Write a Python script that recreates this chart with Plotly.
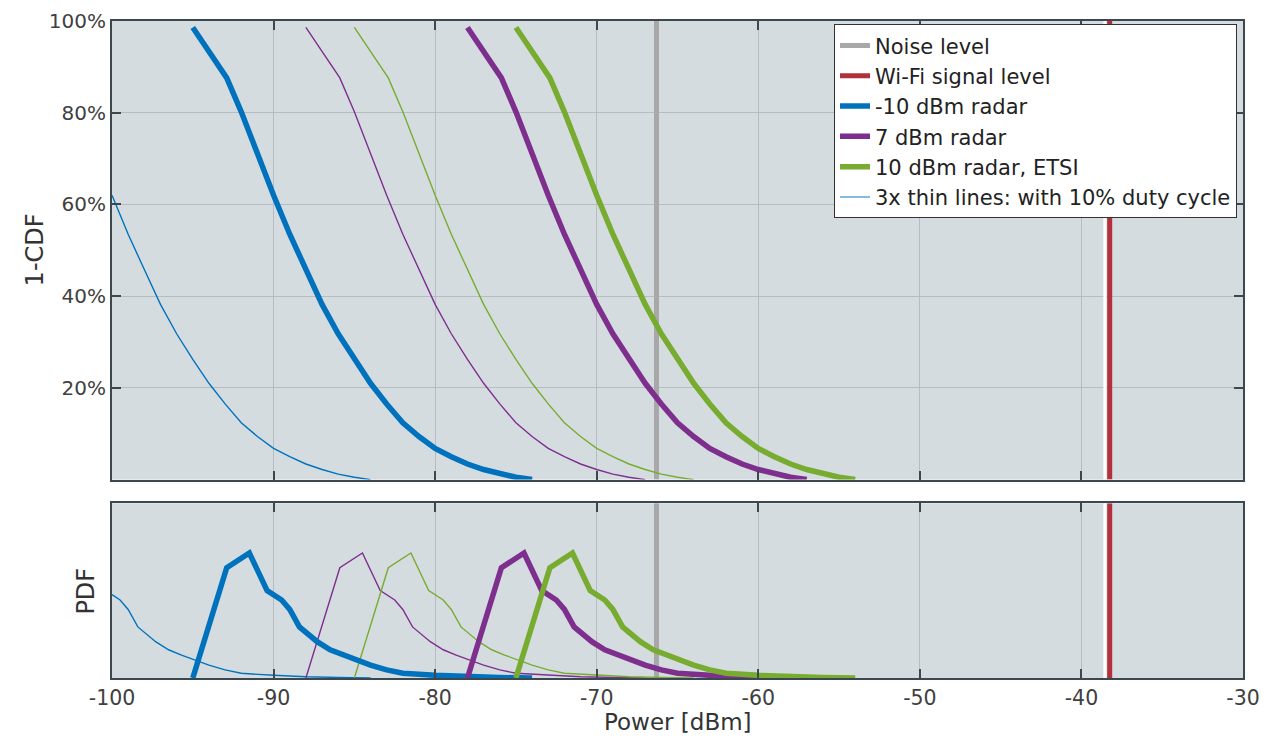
import plotly.graph_objects as go

# ---------------- data ----------------
# 1-CDF curves (percent)
cdf_m10_x = [-95.0, -92.9, -92.0, -91.0, -90.0, -89.0, -88.0, -87.0, -86.0, -85.0, -84.0,
             -83.0, -82.0, -81.0, -80.0, -79.0, -78.0, -77.0, -76.0, -75.0, -74.0]
cdf_m10_y = [98.6, 87.6, 80.2, 71.0, 62.0, 53.5, 45.8, 38.2, 31.8, 26.2, 21.0,
             16.5, 12.4, 9.4, 6.8, 5.0, 3.4, 2.2, 1.2, 0.5, 0.0]

cdf_7_x = [-78.0, -75.9, -75.0, -74.0, -73.0, -72.0, -71.0, -70.0, -69.0, -68.0, -67.0,
           -66.0, -65.0, -64.0, -63.0, -62.0, -61.0, -60.0, -59.0, -58.0, -57.0]
cdf_7_y = [98.6, 87.6, 80.2, 71.0, 62.0, 53.5, 45.8, 38.2, 31.8, 26.2, 21.0,
           16.5, 12.4, 9.4, 6.8, 5.0, 3.4, 2.2, 1.2, 0.5, 0.0]

cdf_10_x = [-75.0, -72.9, -72.0, -71.0, -70.0, -69.0, -68.0, -67.0, -66.0, -65.0, -64.0,
            -63.0, -62.0, -61.0, -60.0, -59.0, -58.0, -57.0, -56.0, -55.0, -54.0]
cdf_10_y = [98.6, 87.6, 80.2, 71.0, 62.0, 53.5, 45.8, 38.2, 31.8, 26.2, 21.0,
            16.5, 12.4, 9.4, 6.8, 5.0, 3.4, 2.2, 1.2, 0.5, 0.0]

# thin lines: 10 % duty cycle
cdf_m10_dc_x = [-100.0, -99.0, -98.0, -97.0, -96.0, -95.0, -94.0, -93.0, -92.0, -91.0,
                -90.0, -89.0, -88.0, -87.0, -86.0, -85.0, -84.0]
cdf_m10_dc_y = [62.0, 53.5, 45.8, 38.2, 31.8, 26.2, 21.0, 16.5, 12.4, 9.4,
                6.8, 5.0, 3.4, 2.2, 1.2, 0.5, 0.0]

cdf_7_dc_x = [-88.0, -85.9, -85.0, -84.0, -83.0, -82.0, -81.0, -80.0, -79.0, -78.0, -77.0,
              -76.0, -75.0, -74.0, -73.0, -72.0, -71.0, -70.0, -69.0, -68.0, -67.0]
cdf_7_dc_y = [98.6, 87.6, 80.2, 71.0, 62.0, 53.5, 45.8, 38.2, 31.8, 26.2, 21.0,
              16.5, 12.4, 9.4, 6.8, 5.0, 3.4, 2.2, 1.2, 0.5, 0.0]

cdf_10_dc_x = [-85.0, -82.9, -82.0, -81.0, -80.0, -79.0, -78.0, -77.0, -76.0, -75.0, -74.0,
               -73.0, -72.0, -71.0, -70.0, -69.0, -68.0, -67.0, -66.0, -65.0, -64.0]
cdf_10_dc_y = [98.6, 87.6, 80.2, 71.0, 62.0, 53.5, 45.8, 38.2, 31.8, 26.2, 21.0,
               16.5, 12.4, 9.4, 6.8, 5.0, 3.4, 2.2, 1.2, 0.5, 0.0]

# PDF curves (arbitrary units, %/dB)
pdf_m10_x = [-95.0, -92.9, -91.5, -90.4, -89.5, -89.0, -88.4, -87.3, -86.5, -85.7, -84.0,
             -83.0, -82.0, -80.0, -78.0, -76.0, -74.0]
pdf_m10_y = [0.0, 8.2, 9.3, 6.5, 5.8, 5.1, 3.8, 2.7, 2.1, 1.7, 0.96,
             0.6, 0.35, 0.2, 0.09, 0.04, 0.0]

pdf_7_x = [-78.0, -75.9, -74.5, -73.4, -72.5, -72.0, -71.4, -70.3, -69.5, -68.7, -67.0,
           -66.0, -65.0, -63.0, -61.0, -59.0, -57.0]
pdf_7_y = [0.0, 8.2, 9.3, 6.5, 5.8, 5.1, 3.8, 2.7, 2.1, 1.7, 0.96,
           0.6, 0.35, 0.2, 0.09, 0.04, 0.0]

pdf_10_x = [-75.0, -72.9, -71.5, -70.4, -69.5, -69.0, -68.4, -67.3, -66.5, -65.7, -64.0,
            -63.0, -62.0, -60.0, -58.0, -56.0, -54.0]
pdf_10_y = [0.0, 8.2, 9.3, 6.5, 5.8, 5.1, 3.8, 2.7, 2.1, 1.7, 0.96,
            0.6, 0.35, 0.2, 0.09, 0.04, 0.0]

pdf_m10_dc_x = [-100.0, -99.5, -99.0, -98.4, -97.3, -96.5, -95.7, -94.0, -93.0, -92.0,
                -90.0, -88.0, -86.0, -84.0]
pdf_m10_dc_y = [6.2, 5.8, 5.1, 3.8, 2.7, 2.1, 1.7, 0.96, 0.6, 0.35,
                0.2, 0.09, 0.04, 0.0]

pdf_7_dc_x = [-88.0, -85.9, -84.5, -83.4, -82.5, -82.0, -81.4, -80.3, -79.5, -78.7, -77.0,
              -76.0, -75.0, -73.0, -71.0, -69.0, -67.0]
pdf_7_dc_y = [0.0, 8.2, 9.3, 6.5, 5.8, 5.1, 3.8, 2.7, 2.1, 1.7, 0.96,
              0.6, 0.35, 0.2, 0.09, 0.04, 0.0]

pdf_10_dc_x = [-85.0, -82.9, -81.5, -80.4, -79.5, -79.0, -78.4, -77.3, -76.5, -75.7, -74.0,
               -73.0, -72.0, -70.0, -68.0, -66.0, -64.0]
pdf_10_dc_y = [0.0, 8.2, 9.3, 6.5, 5.8, 5.1, 3.8, 2.7, 2.1, 1.7, 0.96,
               0.6, 0.35, 0.2, 0.09, 0.04, 0.0]

noise_level = -66.3
wifi_level = -38.25

x_ticks = [-100, -90, -80, -70, -60, -50, -40, -30]
x_tick_text = ["-100", "-90", "-80", "-70", "-60", "-50", "-40", "-30"]
cdf_ticks = [20, 40, 60, 80, 100]
cdf_tick_text = ["20%", "40%", "60%", "80%", "100%"]

# ---------------- styling ----------------
BLUE = "#0072BD"
PURPLE = "#7E2F8E"
GREEN = "#77AC30"
GRAY = "#a8a8a8"
RED = "#b2303b"
LIGHTBLUE = "#82bce6"
FRAME = "#3c4850"
GRID = "#b6bdc2"
BG = "#d5dce0"
FONT = "DejaVu Sans"

fig = go.Figure()

# noise level (top + bottom)
fig.add_trace(go.Scatter(x=[noise_level, noise_level], y=[0, 100], mode="lines",
                         line=dict(color=GRAY, width=5), name="Noise level",
                         xaxis="x", yaxis="y"))
fig.add_trace(go.Scatter(x=[noise_level, noise_level], y=[0, 13], mode="lines",
                         line=dict(color=GRAY, width=5), showlegend=False,
                         xaxis="x2", yaxis="y2"))
# Wi-Fi level with white edge
for xa, ya, ytop in (("x", "y", 100), ("x2", "y2", 13)):
    fig.add_trace(go.Scatter(x=[wifi_level - 0.3, wifi_level - 0.3], y=[0, ytop], mode="lines",
                             line=dict(color="white", width=3), showlegend=False,
                             hoverinfo="skip", xaxis=xa, yaxis=ya))
fig.add_trace(go.Scatter(x=[wifi_level, wifi_level], y=[0, 100], mode="lines",
                         line=dict(color=RED, width=5), name="Wi-Fi signal level",
                         xaxis="x", yaxis="y"))
fig.add_trace(go.Scatter(x=[wifi_level, wifi_level], y=[0, 13], mode="lines",
                         line=dict(color=RED, width=5), showlegend=False,
                         xaxis="x2", yaxis="y2"))

thin = [(cdf_m10_dc_x, cdf_m10_dc_y, pdf_m10_dc_x, pdf_m10_dc_y, BLUE),
        (cdf_7_dc_x, cdf_7_dc_y, pdf_7_dc_x, pdf_7_dc_y, PURPLE),
        (cdf_10_dc_x, cdf_10_dc_y, pdf_10_dc_x, pdf_10_dc_y, GREEN)]
for cx, cy, px, py, col in thin:
    fig.add_trace(go.Scatter(x=cx, y=cy, mode="lines", line=dict(color=col, width=1.4),
                             showlegend=False, xaxis="x", yaxis="y"))
    fig.add_trace(go.Scatter(x=px, y=py, mode="lines", line=dict(color=col, width=1.4),
                             showlegend=False, xaxis="x2", yaxis="y2"))

thick = [(cdf_m10_x, cdf_m10_y, pdf_m10_x, pdf_m10_y, BLUE, "-10 dBm radar"),
         (cdf_7_x, cdf_7_y, pdf_7_x, pdf_7_y, PURPLE, "7 dBm radar"),
         (cdf_10_x, cdf_10_y, pdf_10_x, pdf_10_y, GREEN, "10 dBm radar, ETSI")]
for cx, cy, px, py, col, nm in thick:
    fig.add_trace(go.Scatter(x=cx, y=cy, mode="lines", line=dict(color=col, width=5.5),
                             name=nm, xaxis="x", yaxis="y"))
    fig.add_trace(go.Scatter(x=px, y=py, mode="lines", line=dict(color=col, width=5.5),
                             showlegend=False, xaxis="x2", yaxis="y2"))

fig.add_trace(go.Scatter(x=[None], y=[None], mode="lines", line=dict(color=LIGHTBLUE, width=2),
                         name="3x thin lines: with 10% duty cycle", xaxis="x", yaxis="y"))

axis_common = dict(showline=True, linecolor=FRAME, linewidth=2, mirror="allticks",
                   ticks="inside", ticklen=9, tickwidth=1.5, tickcolor=FRAME,
                   gridcolor=GRID, gridwidth=1, zeroline=False, automargin=False,
                   ticklabeloverflow="allow",
                   tickfont=dict(family=FONT, size=20.5, color="#404040"))

fig.update_layout(
    width=1255, height=726,
    margin=dict(l=104, r=20, t=13, b=56),
    paper_bgcolor="white", plot_bgcolor=BG,
    font=dict(family=FONT, size=21, color="#333333"),
    xaxis=dict(axis_common, domain=[0, 1], range=[-100, -30], tickvals=x_ticks,
               showticklabels=False, anchor="y"),
    yaxis=dict(axis_common, domain=[0.302, 1], range=[0, 100], tickvals=cdf_ticks,
               ticktext=cdf_tick_text, anchor="x",
               tickfont=dict(family=FONT, size=20, color="#404040")),
    xaxis2=dict(axis_common, domain=[0, 1], range=[-100, -30], tickvals=x_ticks,
                ticktext=x_tick_text, anchor="y2", matches="x"),
    yaxis2=dict(axis_common, domain=[0, 0.266], range=[0, 13], showticklabels=False,
                showgrid=False, ticks="", anchor="x2"),
    showlegend=True,
    legend=dict(x=0.9947, y=0.995, xanchor="right", yanchor="top",
                bgcolor="white", bordercolor="#333333", borderwidth=1,
                font=dict(family=FONT, size=21, color="#222222"),
                itemwidth=30, tracegroupgap=0),
    annotations=[
        dict(text="1-CDF", xref="paper", yref="paper", x=-0.068, y=0.651,
             xanchor="center", yanchor="middle", textangle=-90, showarrow=False,
             font=dict(family=FONT, size=24, color="#333333")),
        dict(text="PDF", xref="paper", yref="paper", x=-0.023, y=0.133,
             xanchor="center", yanchor="middle", textangle=-90, showarrow=False,
             font=dict(family=FONT, size=24, color="#333333")),
        dict(text="Power [dBm]", xref="paper", yref="paper", x=0.5, y=-0.067,
             xanchor="center", yanchor="middle", showarrow=False,
             font=dict(family=FONT, size=23, color="#333333")),
    ],
)

fig.write_html("out.html")
